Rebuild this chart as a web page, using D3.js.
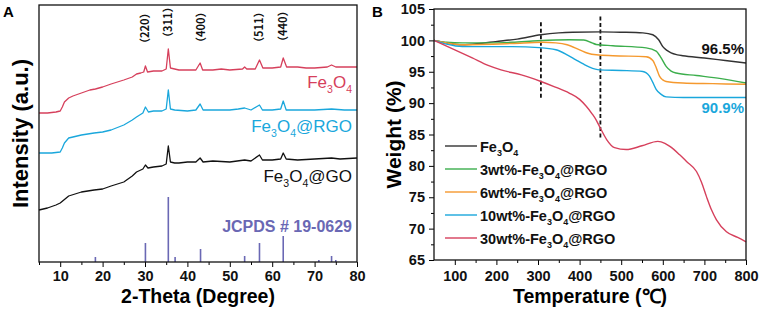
<!DOCTYPE html>
<html>
<head>
<meta charset="utf-8">
<script src="https://cdn.jsdelivr.net/npm/d3@7"></script>
<style>
  html, body { margin: 0; padding: 0; background: #fff; }
  svg { display: block; font-family: Arial, 'Liberation Sans', sans-serif; }
</style>
</head>
<body>
<div id="root"></div>
<script>
// ---- panel A: XRD patterns [2theta, intensity a.u.]
const xrdFe3O4 = [[5, 149], [7, 149], [9, 150], [10, 151], [10.5, 155], [11, 160], [12, 164], [13, 166], [15, 169], [17, 172], [18.3, 173], [20, 175], [22, 178], [25, 182], [27, 185], [28, 188], [29, 189], [29.7, 190], [30.1, 196], [30.6, 190], [32, 191], [34, 191], [35, 193], [35.5, 213], [36, 194], [37, 193], [38, 192], [40, 192], [42, 192], [43, 199], [43.6, 192], [46, 192], [48, 193], [50, 192], [53, 193], [53.5, 195], [54, 193], [56, 193], [57, 202], [57.8, 194], [60, 194], [62, 195], [62.6, 204], [63.4, 195], [66, 195], [68, 194], [70, 194], [73, 195], [74, 197], [75, 195], [78, 195], [80, 195]]
const xrdRGO = [[5, 109], [8, 109], [10, 110], [10.5, 114], [11, 119], [12, 124], [14, 126], [15, 127], [18, 129], [20, 130], [22, 132], [25, 137], [27, 142], [28, 145], [29.5, 149], [30.1, 155], [30.8, 150], [32, 151], [34, 151], [35, 153], [35.5, 172], [36, 153], [37, 152], [40, 151], [42, 152], [43, 158], [43.7, 152], [46, 152], [50, 152], [52, 153], [53.5, 154], [55, 152], [57, 157], [57.7, 152], [60, 152], [62, 153], [62.6, 161], [63.3, 152], [66, 152], [70, 152], [74, 153], [77, 152], [80, 152]]
const xrdGO = [[5, 52], [7, 54], [9, 57], [10, 59], [12, 66], [15, 70], [18, 72], [20, 73], [22, 76], [25, 80], [27, 86], [28, 90], [29.5, 93], [30.1, 97], [30.7, 94], [32, 95], [34, 96], [35, 98], [35.5, 116], [36, 100], [37, 99], [38, 99], [40, 100], [42, 100], [43, 104], [43.7, 100], [46, 101], [50, 100], [53.5, 102], [55, 101], [57, 107], [57.7, 102], [60, 102], [62, 103], [62.6, 109], [63.3, 103], [66, 102], [70, 103], [74, 104], [76, 103], [80, 104]]
const jcpdsAngles = [18.3, 30.1, 35.5, 37.1, 43.1, 53.5, 57.0, 62.6, 71.0, 74.0, 75.0]
const jcpdsHeights = [5, 19, 65, 5, 13, 6, 19, 26, 2, 6, 2]
const peakAngles = [30.1, 35.5, 43.1, 57.0, 62.6]
const peakNames = ['（220）', '（311）', '（400）', '（511）', '（440）']
const peakLabelLevels = [213, 219, 214, 214, 215]
const xrdTicks = [10, 20, 30, 40, 50, 60, 70, 80]

// ---- panel B: TGA curves [temperature, weight %]
const tgaFe3O4 = [[50, 100], [80, 99.6], [118, 99.3], [160, 99.5], [198, 99.8], [250, 100.2], [307, 100.9], [350, 101.2], [383, 101.3], [450, 101.35], [500, 101.3], [552, 101.2], [576, 100.9], [590, 100.1], [600, 99.0], [610, 98.4], [620, 98.0], [635, 97.7], [648, 97.55], [700, 97.2], [750, 96.8], [800, 96.4]]
const tga3 = [[50, 100], [80, 99.7], [118, 99.6], [180, 99.6], [238, 99.7], [300, 99.95], [375, 100.1], [410, 100.05], [430, 99.6], [440, 99.35], [480, 99.15], [560, 98.8], [584, 98.3], [596, 97.2], [608, 95.85], [620, 95.1], [632, 94.8], [681, 94.4], [740, 93.9], [800, 93.2]]
const tga6 = [[50, 100], [80, 99.6], [118, 99.3], [238, 99.5], [311, 99.7], [343, 99.6], [370, 99.3], [400, 98.5], [420, 97.95], [440, 97.7], [480, 97.55], [560, 97.4], [576, 96.8], [585, 95.5], [592, 94.3], [600, 93.7], [608, 93.45], [648, 93.2], [720, 93.1], [800, 93.0]]
const tga10 = [[50, 100], [80, 99.4], [118, 99.0], [238, 99.0], [303, 98.85], [343, 98.5], [370, 97.7], [391, 96.9], [410, 96.2], [424, 95.75], [448, 95.3], [500, 95.2], [552, 95.05], [568, 94.3], [576, 93.3], [584, 92.2], [596, 91.4], [608, 91.0], [650, 90.9], [800, 90.9]]
const tga30 = [[50, 100], [100, 98.5], [142, 97.2], [180, 96.0], [211, 95.3], [260, 94.5], [307, 93.45], [340, 92.6], [375, 91.6], [400, 90.6], [416, 89.5], [430, 88.3], [440, 87.3], [450, 86.0], [465, 84.2], [484, 82.9], [512, 82.6], [550, 83.2], [588, 83.9], [605, 83.6], [617, 83.1], [640, 81.8], [657, 80.7], [681, 79.1], [693, 77.4], [705, 75.1], [717, 73.0], [729, 71.4], [753, 69.5], [780, 68.6], [800, 67.9]]
const tgaNames = ['Fe_3O_4', '3wt%-Fe_3O_4@RGO', '6wt%-Fe_3O_4@RGO', '10wt%-Fe_3O_4@RGO', '30wt%-Fe_3O_4@RGO']
const dashTemps = [307, 450]
const dashTop = [102.9, 103.8]
const dashBottom = [90.8, 84.4]
const tgaXTicks = [100, 200, 300, 400, 500, 600, 700, 800]
const tgaYTicks = [65, 70, 75, 80, 85, 90, 95, 100, 105]

const RED = '#d6405c'
const CYAN = '#1aa7dc'
const JCPDS = '#6a68b4'
const tgaColors = ['#333333', '#3cae4c', '#f5992e', '#1aa7dc', '#d6405c']

const svg = d3.select('#root').append('svg')
  .attr('width', 765)
  .attr('height', 312)

// writes "Fe_3O_4" style labels with subscripts
function chemText (sel, str, size) {
  const parts = str.split(/_(\d)/)
  parts.forEach((p, i) => {
    if (p === '') return
    if (i % 2 === 1) {
      sel.append('tspan').attr('font-size', size * 0.62).attr('dy', size * 0.28).text(p)
    } else {
      const t = sel.append('tspan').text(p)
      if (i > 0) t.attr('dy', -size * 0.28)
    }
  })
}

function tickFont (g) {
  g.selectAll('.tick text')
    .attr('font-size', 14.5).attr('font-weight', 'bold')
    .attr('font-family', 'Arial, Liberation Sans, sans-serif').attr('fill', '#111')
}

// ================= panel A =================
const A = { left: 39, top: 5, right: 357, bottom: 262 }
const xA = d3.scaleLinear().domain([5, 80]).range([A.left, A.right])
const yA = d3.scaleLinear().domain([0, 257]).range([A.bottom, A.top])

const gA = svg.append('g')

gA.append('g')
  .attr('transform', `translate(0, ${A.bottom})`)
  .call(d3.axisBottom(xA).tickValues(xrdTicks).tickSize(5).tickSizeOuter(0))
  .call(g => g.select('.domain').remove())
  .call(tickFont)
  .call(g => g.selectAll('.tick text').attr('dy', 0).attr('y', 19))
gA.append('g')
  .attr('transform', `translate(0, ${A.bottom})`)
  .call(d3.axisBottom(xA).tickValues(d3.range(5, 80, 10)).tickSize(3).tickFormat(''))
  .call(g => g.select('.domain').remove())

// JCPDS sticks
gA.selectAll('line.jcpds')
  .data(jcpdsAngles)
  .join('line')
  .attr('class', 'jcpds')
  .attr('x1', d => xA(d))
  .attr('x2', d => xA(d))
  .attr('y1', yA(0))
  .attr('y2', (d, i) => yA(jcpdsHeights[i]))
  .attr('stroke', JCPDS)
  .attr('stroke-width', 1.6)

const lineA = d3.line().x(d => xA(d[0])).y(d => yA(d[1]))
const xrdSeries = [[xrdFe3O4, RED], [xrdRGO, CYAN], [xrdGO, '#111']]
gA.selectAll('path.xrd')
  .data(xrdSeries)
  .join('path')
  .attr('class', 'xrd')
  .attr('d', d => lineA(d[0]))
  .attr('fill', 'none')
  .attr('stroke', d => d[1])
  .attr('stroke-width', 1.3)
  .attr('stroke-linejoin', 'round')

// hkl labels
gA.selectAll('text.hkl')
  .data(peakAngles)
  .join('text')
  .attr('class', 'hkl')
  .attr('transform', (d, i) => `translate(${xA(d) + 4}, ${yA(peakLabelLevels[i])}) rotate(-90)`)
  .attr('font-size', 11)
  .attr('font-weight', 'bold')
  .attr('font-family', 'Noto Sans CJK SC, sans-serif')
  .attr('fill', '#111')
  .text((d, i) => peakNames[i])

// curve labels
const curveLabels = [['Fe_3O_4', RED, 88], ['Fe_3O_4@RGO', CYAN, 132], ['Fe_3O_4@GO', '#111', 182]]
curveLabels.forEach(c => {
  gA.append('text')
    .attr('x', 352).attr('y', c[2])
    .attr('text-anchor', 'end')
    .attr('font-size', 17)
    .attr('fill', c[1])
    .call(s => chemText(s, c[0], 17))
})
gA.append('text')
  .attr('x', 352).attr('y', 232)
  .attr('text-anchor', 'end')
  .attr('font-size', 16)
  .attr('font-weight', 'bold')
  .attr('fill', JCPDS)
  .text('JCPDS # 19-0629')

gA.append('rect')
  .attr('x', A.left).attr('y', A.top)
  .attr('width', A.right - A.left).attr('height', A.bottom - A.top)
  .attr('fill', 'none').attr('stroke', '#111').attr('stroke-width', 1.3)

gA.append('text')
  .attr('x', (A.left + A.right) / 2).attr('y', 303)
  .attr('text-anchor', 'middle')
  .attr('font-size', 19.5).attr('font-weight', 'bold')
  .text('2-Theta (Degree)')
gA.append('text')
  .attr('transform', `translate(28, ${(A.top + A.bottom) / 2}) rotate(-90)`)
  .attr('text-anchor', 'middle')
  .attr('font-size', 22).attr('font-weight', 'bold')
  .text('Intensity (a.u.)')
svg.append('text')
  .attr('x', 3).attr('y', 17)
  .attr('font-size', 15).attr('font-weight', 'bold')
  .text('A')

// ================= panel B =================
const B = { left: 434, top: 9, right: 746, bottom: 260 }
const xB = d3.scaleLinear().domain([50, 800]).range([B.left, B.right])
const yB = d3.scaleLinear().domain([65, 105]).range([B.bottom, B.top])
const gB = svg.append('g')

gB.append('g')
  .attr('transform', `translate(0, ${B.bottom})`)
  .call(d3.axisBottom(xB).tickValues(tgaXTicks).tickSize(5).tickSizeOuter(0))
  .call(g => g.select('.domain').remove())
  .call(tickFont)
  .call(g => g.selectAll('.tick text').attr('dy', 0).attr('y', 21))
gB.append('g')
  .attr('transform', `translate(0, ${B.bottom})`)
  .call(d3.axisBottom(xB).tickValues(d3.range(150, 800, 100)).tickSize(3).tickFormat(''))
  .call(g => g.select('.domain').remove())
gB.append('g')
  .attr('transform', `translate(${B.left}, 0)`)
  .call(d3.axisLeft(yB).tickValues(tgaYTicks).tickSize(5).tickSizeOuter(0).tickPadding(4))
  .call(g => g.select('.domain').remove())
  .call(tickFont)
gB.append('g')
  .attr('transform', `translate(${B.left}, 0)`)
  .call(d3.axisLeft(yB).tickValues(d3.range(67.5, 105, 5)).tickSize(3).tickFormat(''))
  .call(g => g.select('.domain').remove())

// dashed guides
gB.selectAll('line.guide')
  .data(dashTemps)
  .join('line')
  .attr('class', 'guide')
  .attr('x1', d => xB(d)).attr('x2', d => xB(d))
  .attr('y1', (d, i) => yB(dashTop[i]))
  .attr('y2', (d, i) => yB(dashBottom[i]))
  .attr('stroke', '#111')
  .attr('stroke-width', 1.8)
  .attr('stroke-dasharray', '4,2.5')

const lineB = d3.line().x(d => xB(d[0])).y(d => yB(d[1])).curve(d3.curveMonotoneX)
const tgaSeries = [tgaFe3O4, tga3, tga6, tga10, tga30]
gB.selectAll('path.tga')
  .data(tgaSeries)
  .join('path')
  .attr('class', 'tga')
  .attr('d', d => lineB(d))
  .attr('fill', 'none')
  .attr('stroke', (d, i) => tgaColors[i])
  .attr('stroke-width', 1.4)

// legend
const legend = gB.selectAll('g.legend')
  .data(tgaNames)
  .join('g')
  .attr('class', 'legend')
  .attr('transform', (d, i) => `translate(445, ${146 + i * 23})`)
legend.append('line')
  .attr('x1', 0).attr('x2', 32)
  .attr('stroke', (d, i) => tgaColors[i])
  .attr('stroke-width', 1.4)
legend.append('text')
  .attr('x', 35).attr('y', 6)
  .attr('font-size', 14.5).attr('font-weight', 'bold')
  .attr('fill', '#111')
  .each(function (d) { chemText(d3.select(this), d, 14.5) })

gB.append('text')
  .attr('x', 744).attr('y', 54)
  .attr('text-anchor', 'end')
  .attr('font-size', 15).attr('font-weight', 'bold')
  .attr('fill', '#111')
  .text('96.5%')
gB.append('text')
  .attr('x', 744).attr('y', 113)
  .attr('text-anchor', 'end')
  .attr('font-size', 15).attr('font-weight', 'bold')
  .attr('fill', CYAN)
  .text('90.9%')

gB.append('rect')
  .attr('x', B.left).attr('y', B.top)
  .attr('width', B.right - B.left).attr('height', B.bottom - B.top)
  .attr('fill', 'none').attr('stroke', '#111').attr('stroke-width', 1.3)

gB.append('text')
  .attr('x', (B.left + B.right) / 2).attr('y', 303)
  .attr('text-anchor', 'middle')
  .attr('font-size', 19.5).attr('font-weight', 'bold')
  .text('Temperature (℃)')
gB.append('text')
  .attr('transform', `translate(401, ${(B.top + B.bottom) / 2}) rotate(-90)`)
  .attr('text-anchor', 'middle')
  .attr('font-size', 21).attr('font-weight', 'bold')
  .text('Weight (%)')
svg.append('text')
  .attr('x', 372).attr('y', 17)
  .attr('font-size', 15).attr('font-weight', 'bold')
  .text('B')
</script>
</body>
</html>
